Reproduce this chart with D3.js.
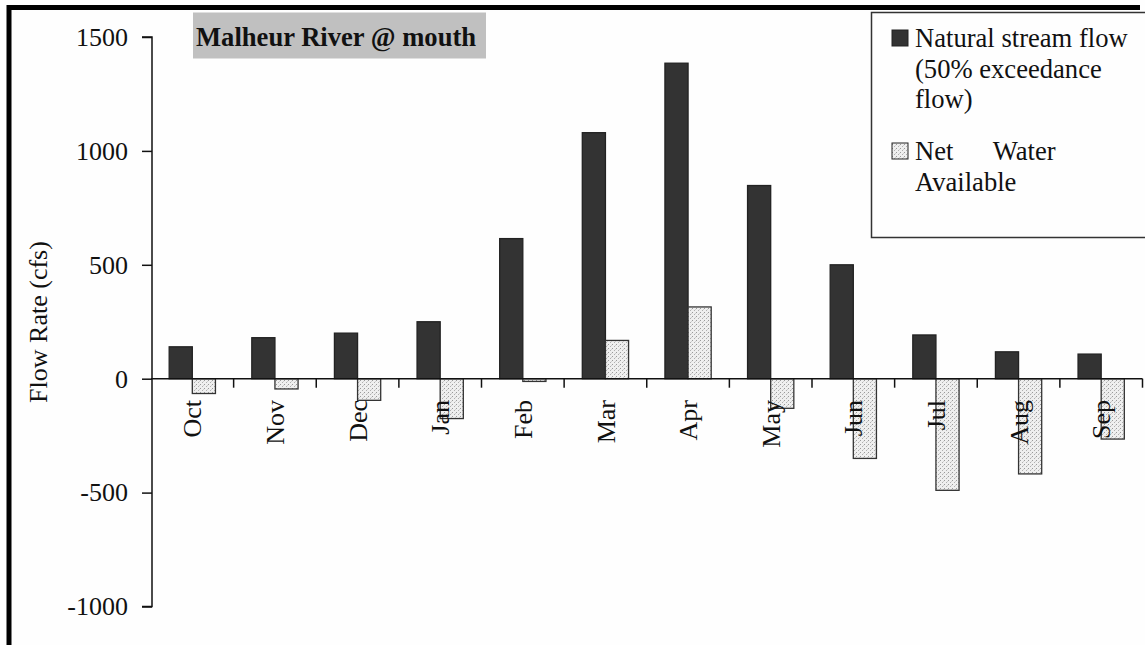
<!DOCTYPE html>
<html>
<head>
<meta charset="utf-8">
<script src="https://cdn.jsdelivr.net/npm/d3@7"></script>
<style>
  html, body { margin: 0; padding: 0; background: #fefefe; }
  svg { display: block; }
  svg text { font-family: "Liberation Serif", "Times New Roman", "DejaVu Serif", serif !important; fill: #111; }
</style>
</head>
<body>
<svg id="chart" width="1145" height="645"></svg>
<script>
// Monthly flow at the mouth of the Malheur River (cfs)
const months = ["Oct", "Nov", "Dec", "Jan", "Feb", "Mar", "Apr", "May", "Jun", "Jul", "Aug", "Sep"];
const naturalFlow = [140, 180, 200, 250, 615, 1080, 1385, 848, 500, 192, 118, 108];
const netAvailable = [-65, -45, -95, -175, -12, 168, 315, -130, -350, -490, -418, -265];
const yTicks = [-1000, -500, 0, 500, 1000, 1500];
const seriesNames = ["naturalFlow", "netAvailable"];
const legendLines = [
  ["Natural stream flow", "(50% exceedance", "flow)"],
  ["Net      Water", "Available"]
];
const titleText = "Malheur River @ mouth";
const yTitle = "Flow Rate (cfs)";

const svg = d3.select("#chart");
const FS = 26;
const SERIF = "Liberation Serif, Times New Roman, serif";

// pattern for the net-water bars: light stipple
const defs = svg.append("defs");
const pat = defs.append("pattern")
  .attr("id", "stipple").attr("patternUnits", "userSpaceOnUse")
  .attr("width", 4).attr("height", 4);
pat.append("rect").attr("width", 4).attr("height", 4).attr("fill", "#efefef");
pat.append("rect").attr("x", 0).attr("y", 0).attr("width", 1).attr("height", 1).attr("fill", "#9a9a9a");
pat.append("rect").attr("x", 2).attr("y", 2).attr("width", 1).attr("height", 1).attr("fill", "#b0b0b0");
pat.append("rect").attr("x", 3).attr("y", 1).attr("width", 1).attr("height", 1).attr("fill", "#d0d0d0");

// outer frame (top and left edges)
svg.append("line").attr("x1", 7).attr("x2", 1140).attr("y1", 7.5).attr("y2", 7.5)
  .attr("stroke", "#000").attr("stroke-width", 5);
svg.append("line").attr("x1", 9).attr("x2", 9).attr("y1", 5).attr("y2", 645)
  .attr("stroke", "#000").attr("stroke-width", 5);

// scales
const y = d3.scaleLinear().domain([-1000, 1500]).range([606.5, 37]);
const x = d3.scaleBand().domain(months).range([151, 1142.5]).paddingInner(0).paddingOuter(0);
const groupW = x.bandwidth() * 0.56;
const xs = d3.scaleBand().domain(seriesNames).range([0, groupW]).padding(0);
const groupOff = (x.bandwidth() - groupW) / 2;

// bars
const rows = months.map((m, i) => ({ m, naturalFlow: naturalFlow[i], netAvailable: netAvailable[i] }));
const g = svg.append("g");
seriesNames.forEach(s => {
  g.selectAll("rect." + s).data(rows).join("rect")
    .attr("class", s)
    .attr("x", d => x(d.m) + groupOff + xs(s))
    .attr("width", xs.bandwidth())
    .attr("y", d => y(Math.max(0, d[s])))
    .attr("height", d => Math.abs(y(d[s]) - y(0)))
    .attr("fill", s === "naturalFlow" ? "#333333" : "url(#stipple)")
    .attr("stroke", s === "naturalFlow" ? "#222" : "#333")
    .attr("stroke-width", 1.3);
});

// y axis
const yAxis = d3.axisLeft(y).tickValues(yTicks).tickSize(10).tickPadding(14)
  .tickFormat(d => String(d));
const yg = svg.append("g").attr("transform", "translate(152,0)").call(yAxis)
  .attr("font-family", SERIF);
yg.select(".domain").attr("stroke", "#111").attr("stroke-width", 1.5).attr("d", `M-10,${y(1500)}H0V${y(-1000)}H-10`);
yg.selectAll(".tick line").attr("stroke", "#111").attr("stroke-width", 1.5);
yg.selectAll(".tick text").attr("font-size", FS).attr("font-family", SERIF).attr("fill", "#111");

// x axis along zero, ticks at band boundaries
svg.append("line").attr("x1", 151).attr("x2", 1142.5).attr("y1", y(0)).attr("y2", y(0))
  .attr("stroke", "#111").attr("stroke-width", 1.5);
const bounds = months.map(m => x(m)).concat([x.range()[1]]).slice(1);
svg.selectAll("line.xtick").data(bounds).join("line").attr("class", "xtick")
  .attr("x1", d => d).attr("x2", d => d).attr("y1", y(0)).attr("y2", y(0) + 9)
  .attr("stroke", "#111").attr("stroke-width", 1.5);

// rotated month labels
svg.selectAll("text.month").data(months).join("text").attr("class", "month")
  .attr("transform", d => `translate(${x(d) + x.bandwidth() / 2},400) rotate(-90)`)
  .attr("text-anchor", "end").attr("dy", "0.35em")
  .attr("font-family", SERIF).attr("font-size", FS).text(d => d);

// y axis title
svg.append("text").attr("transform", "translate(38,322) rotate(-90)")
  .attr("text-anchor", "middle").attr("dy", "0.35em")
  .attr("font-family", SERIF).attr("font-size", FS).text(yTitle);

// chart title in grey box
svg.append("rect").attr("x", 193).attr("y", 12.5).attr("width", 293).attr("height", 46)
  .attr("fill", "#c0c0c0");
svg.append("text").attr("x", 196).attr("y", 46).attr("font-family", SERIF)
  .attr("font-size", 26.6).attr("font-weight", "bold").text(titleText);

// legend
const lg = svg.append("g");
lg.append("rect").attr("x", 871.5).attr("y", 12.5).attr("width", 300).attr("height", 225)
  .attr("fill", "#fefefe").attr("stroke", "#333").attr("stroke-width", 1.5);
const legendTop = [47, 160];
legendLines.forEach((lines, i) => {
  lg.append("rect").attr("x", 892).attr("y", legendTop[i] - 17).attr("width", 16).attr("height", 16)
    .attr("fill", i === 0 ? "#333333" : "url(#stipple)").attr("stroke", "#222").attr("stroke-width", 1);
  lines.forEach((t, j) => {
    lg.append("text").attr("x", 915).attr("y", legendTop[i] + j * 30.5)
      .attr("font-family", SERIF).attr("font-size", 26.6)
      .attr("xml:space", "preserve").style("white-space", "pre").text(t);
  });
});
</script>
</body>
</html>
